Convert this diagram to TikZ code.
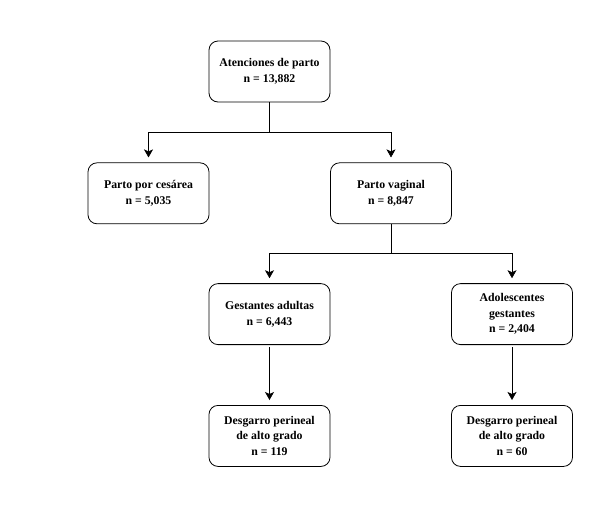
\documentclass[tikz,border=0pt]{standalone}
\usepackage{fontspec}
\setmainfont{Liberation Serif}
\usepackage{tikz}
\usetikzlibrary{arrows.meta,positioning}
\tikzset{
    %Define standard arrow tip
    >={Stealth[length=8pt,width=9pt,inset=2pt]},
    %Define style for boxes
    flowbox/.style={
           rectangle,
           rounded corners=9pt,
           draw=black, line width=0.8pt,
           minimum width=121pt,
           minimum height=61pt,
           inner sep=2pt,
           font=\bfseries\fontsize{11.8}{15.5}\selectfont,
           align=center},
    % Define arrow style
    pil/.style={
           ->,
           line width=0.6pt,
           shorten >=5pt},
    ln/.style={line width=0.6pt}
}
\begin{document}
\begin{tikzpicture}[node distance=60pt]
\useasboundingbox (0,0) rectangle (596pt,-507pt);
\node[flowbox] (1) at (269.5pt,-71.5pt) {Atenciones de parto\\n = 13,882};
\node[flowbox, below=of 1, xshift=-121pt] (2) {Parto por cesárea\\n = 5,035};
\node[flowbox, below=of 1, xshift=121.5pt] (3) {Parto vaginal\\n = 8,847};
\node[flowbox, below=59pt of 3, xshift=-121.5pt] (4) {Gestantes adultas\\n = 6,443};
\node[flowbox, below=59pt of 3, xshift=121pt] (5) {Adolescentes\\gestantes\\n = 2,404};
\node[flowbox, below=of 4] (6) {Desgarro perineal\\de alto grado\\n = 119};
\node[flowbox, below=of 5] (7) {Desgarro perineal\\de alto grado\\n = 60};
% branching lines
\draw[ln] (1.south) -- ++(0,-30pt) coordinate (j1);
\draw[pil] (j1) -| (2);
\draw[pil] (j1) -| (3);
\draw[ln] (3.south) -- ++(0,-29pt) coordinate (j2);
\draw[pil] (j2) -| (4);
\draw[pil] (j2) -| (5);
\draw[pil, shorten <=2pt] (4) -- (6);
\draw[pil, shorten <=2pt] (5) -- (7);
\end{tikzpicture}
\end{document}
